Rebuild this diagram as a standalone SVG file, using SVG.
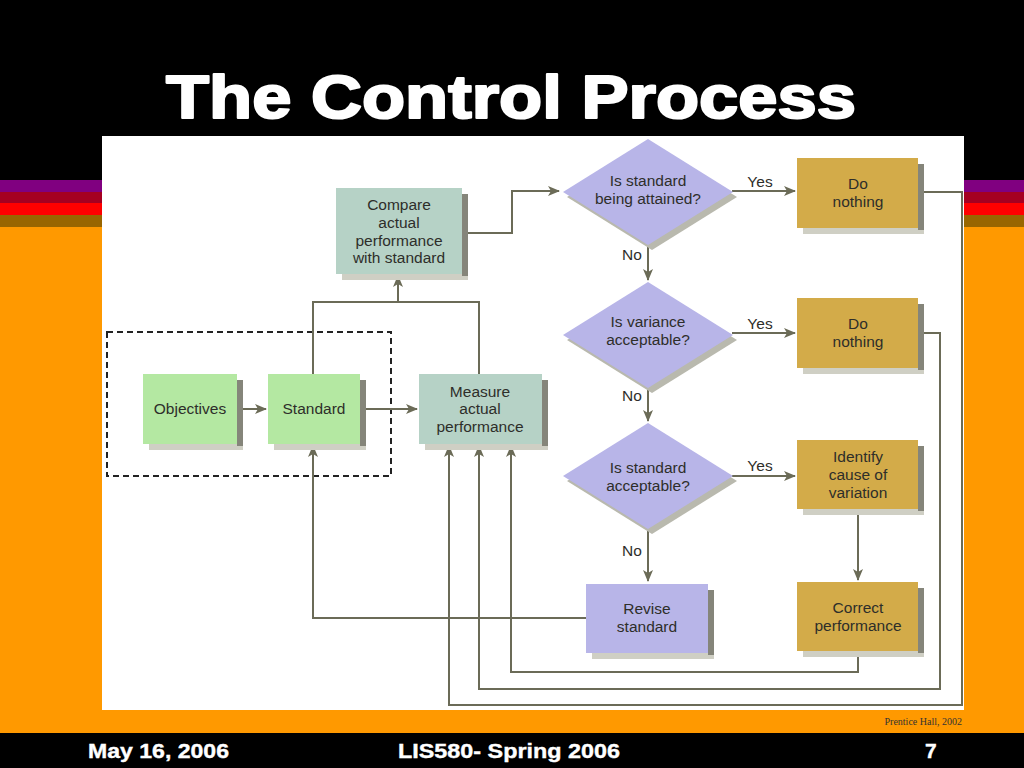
<svg xmlns="http://www.w3.org/2000/svg" width="1024" height="768" viewBox="0 0 1024 768">
<style>
.t{font-family:"Liberation Sans",Arial,sans-serif;font-size:15.5px;fill:#2e2e2a;text-anchor:middle}
.lbl{font-family:"Liberation Sans",Arial,sans-serif;font-size:15.5px;fill:#2e2e2a;text-anchor:middle}
.c{fill:none;stroke:#6b6b57;stroke-width:2}
.sh{fill:#cfcfc4}
.shd{fill:#85857a}
.grn{fill:#b4e8a2}
.teal{fill:#b6d2c6}
.lav{fill:#b8b5e8}
.gold{fill:#d3ab49}
.ft{font-family:"Liberation Sans",Arial,sans-serif;font-weight:bold;font-size:21px;fill:#fff;stroke:#fff;stroke-width:0.4}
</style>
<defs>
<marker id="ar" markerWidth="12" markerHeight="10" refX="11" refY="5" orient="auto" markerUnits="userSpaceOnUse">
<path d="M0,0 L12,5 L0,10 L3,5 Z" fill="#6b6b57"/>
</marker>
</defs>
<rect width="1024" height="768" fill="#000"/>
<rect x="0" y="180" width="1024" height="12" fill="#800080"/>
<rect x="0" y="192" width="1024" height="11" fill="#a50021"/>
<rect x="0" y="203" width="1024" height="12" fill="#ff0000"/>
<rect x="0" y="215" width="1024" height="12" fill="#996600"/>
<rect x="0" y="227" width="1024" height="506" fill="#ff9900"/>
<rect x="0" y="733" width="1024" height="35" fill="#000"/>
<text x="511" y="118" font-family="'Liberation Sans',Arial,sans-serif" font-weight="bold" font-size="62" fill="#fff" stroke="#fff" stroke-width="2.2" stroke-linejoin="round" text-anchor="middle" textLength="690" lengthAdjust="spacingAndGlyphs">The Control Process</text>
<rect x="102" y="136" width="862" height="574" fill="#fff"/>
<text x="962" y="725" font-family="'Liberation Serif','Times New Roman',serif" font-size="10" fill="#333" text-anchor="end">Prentice Hall, 2002</text>
<text class="ft" x="88" y="758" textLength="141" lengthAdjust="spacingAndGlyphs">May 16, 2006</text>
<text class="ft" x="398" y="758" textLength="222" lengthAdjust="spacingAndGlyphs">LIS580- Spring 2006</text>
<text class="ft" x="925" y="758">7</text>

<rect x="107" y="332" width="284" height="144" fill="none" stroke="#222" stroke-width="2" stroke-dasharray="6,4"/>

<g id="connectors">
<path class="c" d="M237,409 H266" marker-end="url(#ar)"/>
<path class="c" d="M360,409 H417" marker-end="url(#ar)"/>
<path class="c" d="M313,374 V302 H479 V374"/>
<path class="c" d="M398,302 V276" marker-end="url(#ar)"/>
<path class="c" d="M462,233 H512 V191 H559" marker-end="url(#ar)"/>
<path class="c" d="M732,191 H795" marker-end="url(#ar)"/>
<path class="c" d="M732,333 H795" marker-end="url(#ar)"/>
<path class="c" d="M732,476 H795" marker-end="url(#ar)"/>
<path class="c" d="M648,245 V280" marker-end="url(#ar)"/>
<path class="c" d="M648,388 V421" marker-end="url(#ar)"/>
<path class="c" d="M648,530 V581" marker-end="url(#ar)"/>
<path class="c" d="M858,509 V580" marker-end="url(#ar)"/>
<path class="c" d="M586,618 H313 V446" marker-end="url(#ar)"/>
<path class="c" d="M858,651 V672 H511 V446" marker-end="url(#ar)"/>
<path class="c" d="M918,333 H940 V689 H479 V446" marker-end="url(#ar)"/>
<path class="c" d="M918,192 H962 V705 H449 V446" marker-end="url(#ar)"/>
<text class="lbl" x="760" y="187">Yes</text>
<text class="lbl" x="760" y="329">Yes</text>
<text class="lbl" x="760" y="471">Yes</text>
<text class="lbl" x="632" y="260">No</text>
<text class="lbl" x="632" y="401">No</text>
<text class="lbl" x="632" y="556">No</text>
</g>

<g id="objectives">
<rect class="sh" x="149" y="380" width="94" height="70"/><rect class="shd" x="237" y="380" width="6" height="66"/>
<rect class="grn" x="143" y="374" width="94" height="70"/>
<text class="t" x="190" y="414">Objectives</text>
</g>
<g id="standard">
<rect class="sh" x="274" y="380" width="92" height="70"/><rect class="shd" x="360" y="380" width="6" height="66"/>
<rect class="grn" x="268" y="374" width="92" height="70"/>
<text class="t" x="314" y="414">Standard</text>
</g>
<g id="measure">
<rect class="sh" x="425" y="380" width="123" height="70"/><rect class="shd" x="542" y="380" width="6" height="66"/>
<rect class="teal" x="419" y="374" width="123" height="70"/>
<text class="t" x="480" y="397">Measure</text>
<text class="t" x="480" y="414">actual</text>
<text class="t" x="480" y="432">performance</text>
</g>
<g id="compare">
<rect class="sh" x="342" y="194" width="126" height="86"/><rect class="shd" x="462" y="194" width="6" height="82"/>
<rect class="teal" x="336" y="188" width="126" height="86"/>
<text class="t" x="399" y="210">Compare</text>
<text class="t" x="399" y="228">actual</text>
<text class="t" x="399" y="246">performance</text>
<text class="t" x="399" y="263">with standard</text>
</g>
<g id="d1">
<polygon points="652,144 737,197 652,250 567,197" fill="#b9b9ae"/>
<polygon class="lav" points="648,139 733,192 648,245 563,192"/>
<text class="t" x="648" y="186">Is standard</text>
<text class="t" x="648" y="204">being attained?</text>
</g>
<g id="d2">
<polygon points="652,287 737,340 652,393 567,340" fill="#b9b9ae"/>
<polygon class="lav" points="648,282 733,335 648,388 563,335"/>
<text class="t" x="648" y="327">Is variance</text>
<text class="t" x="648" y="345">acceptable?</text>
</g>
<g id="d3">
<polygon points="652,428 737,481 652,534 567,481" fill="#b9b9ae"/>
<polygon class="lav" points="648,423 733,476 648,529 563,476"/>
<text class="t" x="648" y="473">Is standard</text>
<text class="t" x="648" y="491">acceptable?</text>
</g>
<g id="nothing1">
<rect class="sh" x="803" y="164" width="121" height="70"/><rect class="shd" x="918" y="164" width="6" height="66"/>
<rect class="gold" x="797" y="158" width="121" height="70"/>
<text class="t" x="858" y="189">Do</text>
<text class="t" x="858" y="207">nothing</text>
</g>
<g id="nothing2">
<rect class="sh" x="803" y="304" width="121" height="70"/><rect class="shd" x="918" y="304" width="6" height="66"/>
<rect class="gold" x="797" y="298" width="121" height="70"/>
<text class="t" x="858" y="329">Do</text>
<text class="t" x="858" y="347">nothing</text>
</g>
<g id="identify">
<rect class="sh" x="803" y="446" width="121" height="69"/><rect class="shd" x="918" y="446" width="6" height="65"/>
<rect class="gold" x="797" y="440" width="121" height="69"/>
<text class="t" x="858" y="462">Identify</text>
<text class="t" x="858" y="480">cause of</text>
<text class="t" x="858" y="498">variation</text>
</g>
<g id="correct">
<rect class="sh" x="803" y="588" width="121" height="69"/><rect class="shd" x="918" y="588" width="6" height="65"/>
<rect class="gold" x="797" y="582" width="121" height="69"/>
<text class="t" x="858" y="613">Correct</text>
<text class="t" x="858" y="631">performance</text>
</g>
<g id="revise">
<rect class="sh" x="592" y="590" width="122" height="69"/><rect class="shd" x="708" y="590" width="6" height="65"/>
<rect class="lav" x="586" y="584" width="122" height="69"/>
<text class="t" x="647" y="614">Revise</text>
<text class="t" x="647" y="632">standard</text>
</g>
</svg>
